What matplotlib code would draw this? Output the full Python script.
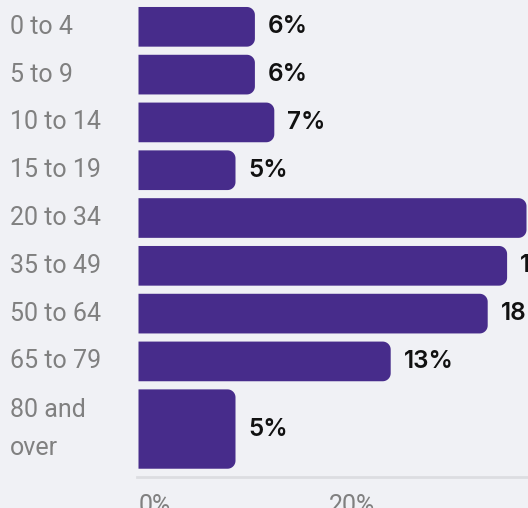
import numpy as np
import matplotlib.pyplot as plt
from matplotlib.patches import Polygon
import matplotlib.transforms as mtransforms

# Age groups and share of population (%)
age_groups = ['0 to 4', '5 to 9', '10 to 14', '15 to 19', '20 to 34',
              '35 to 49', '50 to 64', '65 to 79', '80 and\nover']
shares = [6, 6, 7, 5, 20, 19, 18, 13, 5]
value_labels = ['6%', '6%', '7%', '5%', '20%', '19%', '18%', '13%', '5%']
tick_labels = ['0%', '20%']

bar_color = '#472c8b'
bg_color = '#f0f1f5'
label_color = '#808080'

W, H = 528, 508
px_per_pct = 19.4      # horizontal scale in pixels
row_px = 47.8          # pitch of a one-line row in pixels

fig = plt.figure(figsize=(W / 100, H / 100), dpi=100)
fig.patch.set_facecolor(bg_color)

ax_left = 138.5
ax_bottom = 31
ax_w = 600
ax = fig.add_axes([ax_left / W, ax_bottom / H, ax_w / W, (H - ax_bottom) / H])
ax.set_facecolor(bg_color)
ax.set_xlim(0, ax_w / px_per_pct)

# row layout: two-line labels get a taller bar
centers, heights = [], []
pos = 0.146
for lab in age_groups:
    lines = lab.count('\n') + 1
    h = 0.83 * lines
    centers.append(pos + h / 2)
    heights.append(h)
    pos += h + 0.17
ax.set_ylim((H - ax_bottom) / row_px, 0)


def rounded_bar(ax, y0, h, w, rad_px=8):
    # square left end, rounded right corners
    rx = rad_px / px_per_pct
    ry = rad_px / row_px
    t = np.linspace(0, np.pi / 2, 12)
    top = y0 + h
    pts = [(0, y0)]
    pts += [(w - rx + rx * np.sin(a), y0 + ry - ry * np.cos(a)) for a in t]
    pts += [(w - rx + rx * np.cos(a), top - ry + ry * np.sin(a)) for a in t]
    pts.append((0, top))
    ax.add_patch(Polygon(pts, closed=True, facecolor=bar_color,
                         edgecolor='none', clip_on=False))


for yc, h, v, lab in zip(centers, heights, shares, value_labels):
    rounded_bar(ax, yc - h / 2, h, v)
    ax.text(v + 13 / px_per_pct, yc, lab, ha='left', va='center',
            fontsize=17.5, fontweight=600, family='Inter', color='#111111')

# category labels at the left edge
trans = mtransforms.blended_transform_factory(fig.transFigure, ax.transData)
for yc, lab in zip(centers, age_groups):
    ax.text(10 / W, yc, lab, transform=trans, ha='left', va='center',
            fontsize=18, family='Roboto', color=label_color, linespacing=1.75)

ax.set_yticks([])
ax.tick_params(axis='x', length=0, pad=12, labelsize=18, labelcolor=label_color)
ax.set_xticks([0, 9.8])
ax.set_xticklabels(tick_labels, family='Roboto', ha='left')

for s in ['top', 'right', 'left']:
    ax.spines[s].set_visible(False)
ax.spines['bottom'].set_color('#dcdde1')
ax.spines['bottom'].set_linewidth(2)
ax.spines['bottom'].set_bounds(-0.1, ax_w / px_per_pct)

fig.savefig('out.png', dpi=100, facecolor=bg_color)
